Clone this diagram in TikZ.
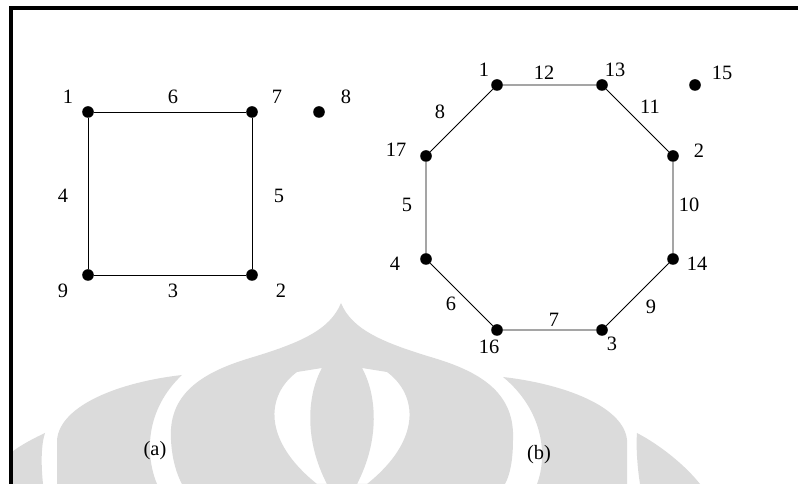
\documentclass[tikz,border=0pt]{standalone}
\usepackage{fontspec}
\setmainfont{Liberation Serif}
\definecolor{wmgray}{gray}{0.86}

\begin{document}
\begin{tikzpicture}[
  x=0.025cm, y=-0.025cm,
  vtx/.style={circle, fill=black, inner sep=0pt, minimum size=0.29cm},
  edge/.style={line width=0.55pt, draw=black},
  lbl/.style={inner sep=0pt, font=\fontsize{14.5}{17}\selectfont},
  logo/.style={fill=wmgray, draw=none}
]
  \useasboundingbox (0,0) rectangle (798,484);

  % faint logo in the background
  \fill[logo, even odd rule]
    (341,303) .. controls (330,330) and (300,343) .. (250,358)
      .. controls (200,373) and (168,395) .. (171,440)
      .. controls (172,460) and (177,475) .. (182,484)
      -- (505,484) .. controls (510,475) and (513,460) .. (513,440)
      .. controls (515,395) and (484,373) .. (434,358)
      .. controls (384,343) and (352,330) .. (341,303) -- cycle
    (297,372) .. controls (266,395) and (262,440) .. (317,484)
      -- (327,484) .. controls (304,440) and (307,395) .. (322,368) -- cycle
    (387,372) .. controls (418,395) and (422,440) .. (367,484)
      -- (357,484) .. controls (380,440) and (377,395) .. (362,368) -- cycle;
  \fill[logo] (182,375) .. controls (120,382) and (60,405) .. (57,440)
    -- (57,484) -- (157,484) .. controls (145,455) and (145,410) .. (182,375) -- cycle;
  \fill[logo] (503,377) .. controls (565,384) and (624,407) .. (627,440)
    -- (627,484) -- (537,484) .. controls (548,455) and (543,410) .. (503,377) -- cycle;
  \fill[logo] (45,433) .. controls (30,440) and (18,447) .. (12,452)
    -- (12,484) -- (43,484) .. controls (41,465) and (41,445) .. (45,433) -- cycle;
  \fill[logo] (637,433) .. controls (660,445) and (685,465) .. (700,484)
    -- (640,484) .. controls (637,465) and (636,445) .. (637,433) -- cycle;

  % frame
  \draw[line width=2.8pt, line join=miter] (11,484) -- (11,8) -- (798,8);

  % graph (a)
  \node[vtx] (a1) at (88,112) {};
  \node[vtx] (a7) at (252,112) {};
  \node[vtx] (a8) at (319,112) {};
  \node[vtx] (a9) at (88,275) {};
  \node[vtx] (a2) at (252,275) {};
  \draw[edge] (a1) -- (a7) -- (a2) -- (a9) -- (a1);

  \foreach \nm/\x/\y/\txt in {la1/68/97/1, la7/277/97/7, la8/346/97/8,
      la9/63/291/9, la2/281/291/2, le6/173/97/6, le5/279/196/5,
      le3/173/291/3, le4/63/196/4}
    \node[lbl] (\nm) at (\x,\y) {\txt};

  % graph (b)
  \node[vtx] (b1) at (497,85) {};
  \node[vtx] (b13) at (602,85) {};
  \node[vtx] (b15) at (695,85) {};
  \node[vtx] (b2) at (673,156) {};
  \node[vtx] (b14) at (673,259) {};
  \node[vtx] (b3) at (602,330) {};
  \node[vtx] (b16) at (497,330) {};
  \node[vtx] (b4) at (426,259) {};
  \node[vtx] (b17) at (426,156) {};
  \draw[edge] (b1) -- (b13) -- (b2) -- (b14) -- (b3) -- (b16) -- (b4) -- (b17) -- (b1);

  \foreach \nm/\x/\y/\txt in {lb1/484/70/1, lb13/615/70/13, lb15/722/73/15,
      lb17/396/150/17, lb2/699/151/2, lb4/395/264/4, lb14/697/264/14,
      lb16/489/347/16, lb3/612/344/3,
      ke12/544/73/12, ke8/440/112/8, ke11/650/107/11, ke5/407/205/5,
      ke10/689/205/10, ke6/451/304/6, ke9/651/307/9, ke7/554/320/7}
    \node[lbl] (\nm) at (\x,\y) {\txt};

  % captions
  \node[lbl] (capa) at (155,451) {(a)};
  \node[lbl] (capb) at (539,455) {(b)};
\end{tikzpicture}
\end{document}
